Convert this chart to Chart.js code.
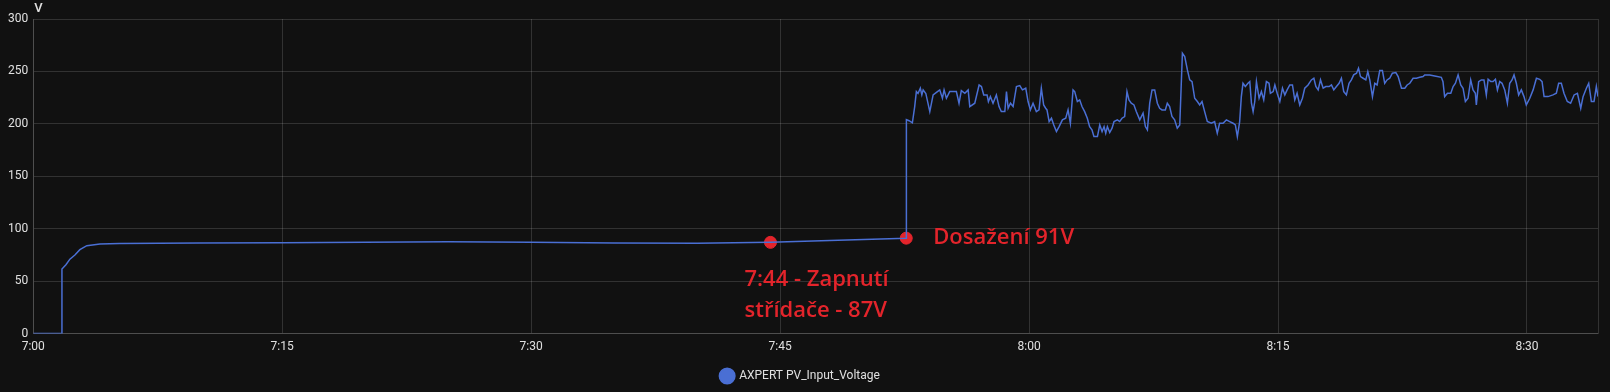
<!DOCTYPE html>
<html>
<head>
<meta charset="utf-8">
<script src="https://cdn.jsdelivr.net/npm/chart.js@4"></script>
<style>
    html, body { margin: 0; padding: 0; background: #111111; }
    #wrap { width: 1610px; height: 392px; }
</style>
</head>
<body>
<div id="wrap"><canvas id="chartCanvas"></canvas></div>
<script>
// data (minuty od 7:00, napětí ve V)
const minutes = [
    0, 1.72, 1.73, 1.97, 2.21, 2.51, 2.81, 3.23, 4.02, 5.2, 10, 15, 20, 25, 30, 35, 40, 44.42, 48, 52.6,
    52.61, 52.77, 52.97, 53.11, 53.21, 53.31, 53.45, 53.54, 53.62, 53.78, 54.02, 54.22, 54.42, 54.62, 54.78,
    54.88, 55.02, 55.22, 55.62, 55.78, 55.92, 56.13, 56.33, 56.43, 56.73, 56.99, 57.13, 57.27, 57.47, 57.55,
    57.67, 57.83, 58.03, 58.19, 58.33, 58.54, 58.64, 58.74, 58.88, 59.04, 59.24, 59.44, 59.60, 59.80, 59.94,
    60.08, 60.24, 60.44, 60.60, 60.74, 60.88, 61.00, 61.08, 61.21, 61.35, 61.49, 61.65, 61.81, 62.01, 62.21,
    62.35, 62.49, 62.65,
    62.75, 62.91, 63.05, 63.19, 63.35, 63.51, 63.65, 63.79, 63.91, 64.12, 64.26, 64.40, 64.52, 64.62, 64.72,
    64.86, 65.00, 65.12, 65.32, 65.46, 65.60, 65.76, 65.90, 66.02, 66.16, 66.32, 66.46, 66.67, 66.87, 67.01,
    67.13, 67.27, 67.41, 67.57, 67.73, 67.87, 68.01, 68.21, 68.33, 68.47, 68.61, 68.77, 68.93, 69.08, 69.24,
    69.38, 69.54, 69.68, 69.82, 69.98, 70.14, 70.28, 70.42, 70.58, 70.74, 70.98, 71.18, 71.34, 71.48, 71.69,
    71.89, 72.09, 72.29, 72.43, 72.55, 72.69, 72.79, 72.89, 73.03, 73.19,
    73.30, 73.40, 73.50, 73.60, 73.70, 73.86, 74.00, 74.14, 74.30, 74.46, 74.54, 74.71, 74.81, 74.95, 75.11,
    75.27, 75.41, 75.55, 75.71, 75.87, 76.01, 76.15, 76.31, 76.47, 76.61, 76.81, 77.01, 77.16, 77.28, 77.42,
    77.56, 77.72, 77.88, 78.08, 78.22, 78.36, 78.52, 78.68, 78.82, 78.96, 79.12, 79.28, 79.42, 79.56, 79.73,
    79.85, 79.97, 80.13, 80.29, 80.41, 80.53, 80.69, 80.83, 80.97, 81.13, 81.29, 81.43, 81.57, 81.73, 81.89,
    82.10, 82.24, 82.44, 82.64, 82.78, 82.94, 83.14, 83.34, 83.54, 83.74,
    83.84, 84.14, 84.44, 84.84, 84.94, 85.04, 85.21, 85.41, 85.55, 85.69, 85.85, 86.01, 86.15, 86.29, 86.45,
    86.61, 86.75, 86.89, 86.95, 87.09, 87.25, 87.41, 87.55, 87.66, 87.82, 87.96, 88.10, 88.22, 88.36, 88.50,
    88.66, 88.82, 88.96, 89.10, 89.22, 89.36, 89.50, 89.66, 89.82, 89.96, 90.17, 90.37, 90.57, 90.77, 90.91,
    91.03, 91.27, 91.57, 91.77, 91.91, 92.07, 92.23, 92.43, 92.63, 92.84, 93.04, 93.24, 93.38, 93.58, 93.72,
    93.88, 94.04, 94.18, 94.28
];
const voltage = [
    0, 0, 61.6, 65.7, 71, 75, 80, 83.8, 85.4, 86, 86.4, 86.7, 87.2, 87.6, 87.2, 86.5, 86.2, 87, 88.8, 91,
    204, 203, 201, 216.5, 230.8, 229, 234, 227.6, 232.4, 229, 211.7, 227.6, 230, 232.4, 224.4,
    232.4, 224.4, 230.8, 230.8, 219.7, 231.7, 229.2, 232.4, 216.5, 219.7, 237.1, 235.6, 227.6, 227.6, 221.3,
    226, 219.7, 227.6, 216.5, 211.7, 211.7, 230.8, 214.9, 219.7, 216.5, 235.6, 236.5, 232.4, 234, 221.3,
    213.3, 219.7, 211.7, 213.3, 234, 218, 214.9, 213.3, 202.2, 205.4, 199, 192.7, 197.4, 203.8, 205.4,
    213.3, 200.6, 232.4,
    230.8, 221.3, 222.9, 216.5, 211.7, 205.4, 197.4, 194.3, 187.9, 187.9, 199, 192.7, 197.4, 191.1, 197.4,
    191.7, 195.9, 202.2, 203.8, 202.2, 205.4, 207, 230.8, 222.9, 219.7, 218.1, 211.7, 203.8, 210.2, 197.4,
    194.3, 219.7, 232.4, 232.4, 219.7, 214.9, 213.3, 213.3, 219.7, 216.5, 207, 203.8, 195.9, 199, 267.3,
    264.1, 251.4, 241.9, 240.3, 224.4, 221.3, 218.1, 221.3, 211.7, 202.2, 200.6, 202.2, 191.1, 200.6, 200.6,
    203.8, 202.2, 200.6, 199, 187.9, 202.2, 226, 238.7, 235.6, 238.7,
    240.3, 219.7, 211.7, 221.3, 240.3, 224.4, 230.8, 222.9, 240.3, 238.7, 229.2, 230.8, 237.1, 229.2, 221.3,
    234, 227.6, 232.4, 237.1, 237.1, 222.9, 229.2, 218.1, 224.4, 234, 237.1, 241.9, 243.5, 235.6, 232.4,
    241.9, 234, 235.6, 235.6, 237.1, 232.4, 235.6, 238.7, 243.5, 230.8, 227.6, 238.7, 241.9, 246.7, 248.3,
    253, 245.1, 243.5, 241.9, 249.8, 241.9, 226, 238.7, 237.1, 250.8, 250.8, 238.7, 241.9, 243.5, 248.3,
    248.9, 245.1, 234, 234, 237.1, 238.7, 243.5, 243.5, 244.4, 245.1,
    246.7, 246.7, 245.7, 244.4, 240.3, 226, 229.2, 229.2, 235.6, 238.7, 246.7, 237.1, 234, 221.3, 224.4,
    241.9, 232.4, 229.2, 218.1, 240.3, 241.9, 241.9, 227.6, 242.5, 240.3, 240.3, 242.5, 232.4, 240.3, 238.7,
    232.4, 219.7, 238.7, 241.9, 246.7, 238.7, 227.6, 232.4, 226, 218.1, 224.4, 232.4, 243.5, 242.5, 240.3,
    226, 226, 227.6, 229.2, 238.7, 238.7, 229.2, 221.3, 219.7, 227.6, 229.2, 214.9, 226, 234, 238.7,
    221.3, 221.3, 235.6, 226
];

// vyznačené body a popisky
const markMinutes = [44.42, 52.6];
const markVolts = [87, 91];
const markTexts = [['7:44 - Zapnutí', 'střídače - 87V'], ['Dosažení 91V']];

// popisky os
const tickLabels = ['7:00', '7:15', '7:30', '7:45', '8:00', '8:15', '8:30'];
const yTicks = [0, 50, 100, 150, 200, 250, 300];
const seriesName = 'AXPERT PV_Input_Voltage';
const unitLabel = 'V';

const lineColor = '#4a6fd4';
const markColor = '#e3242b';
const textColor = '#e0e0e0';
const gridColor = 'rgba(255, 255, 255, 0.14)';

let chart;

// popisky jednotky a anotace
const overlayPlugin = {
    id: 'overlay',
    afterDraw(c) {
        const ctx = c.ctx;
        const area = c.chartArea;
        const xs = c.scales.x;
        const ys = c.scales.y;
        ctx.save();
        ctx.fillStyle = textColor;
        ctx.font = '500 13px Roboto';
        ctx.textBaseline = 'bottom';
        ctx.textAlign = 'left';
        ctx.fillText(unitLabel, area.left + 1, area.top - 4);

        ctx.fillStyle = markColor;
        ctx.font = '600 22px "Open Sans"';
        ctx.textBaseline = 'alphabetic';
        // první bod - text pod bodem
        let px = xs.getPixelForValue(markMinutes[0]);
        let py = ys.getPixelForValue(markVolts[0]);
        ctx.fillText(markTexts[0][0], px - 26, py + 44);
        ctx.fillText(markTexts[0][1], px - 26, py + 75);
        // druhý bod - text vpravo
        px = xs.getPixelForValue(markMinutes[1]);
        py = ys.getPixelForValue(markVolts[1]);
        ctx.fillText(markTexts[1][0], px + 27, py + 6);
        ctx.restore();
    }
};

function initChart() {
    const canvas = document.getElementById('chartCanvas');
    const points = minutes.map((m, i) => ({ x: m, y: voltage[i] }));
    const marks = markMinutes.map((m, i) => ({ x: m, y: markVolts[i] }));

    chart = new Chart(canvas, {
        type: 'line',
        data: {
            datasets: [{
                label: seriesName,
                data: points,
                borderColor: lineColor,
                backgroundColor: lineColor,
                borderWidth: 1.5,
                pointRadius: 0,
                tension: 0
            }, {
                label: 'marks',
                data: marks,
                showLine: false,
                pointRadius: 6,
                pointBackgroundColor: markColor,
                pointBorderColor: markColor,
                borderColor: markColor,
                backgroundColor: markColor
            }]
        },
        options: {
            responsive: true,
            maintainAspectRatio: false,
            animation: false,
            layout: { padding: { top: 19, left: 3, right: 12, bottom: 0 } },
            plugins: {
                legend: {
                    position: 'bottom',
                    labels: {
                        color: textColor,
                        font: { family: 'Roboto', size: 12 },
                        usePointStyle: true,
                        pointStyle: 'circle',
                        boxHeight: 11,
                        filter: (item) => item.datasetIndex === 0
                    }
                },
                tooltip: { enabled: false }
            },
            scales: {
                x: {
                    type: 'linear',
                    min: 0,
                    max: 94.28,
                    grid: { color: gridColor, drawTicks: false },
                    border: { color: gridColor },
                    ticks: {
                        stepSize: 15,
                        color: textColor,
                        font: { family: 'Roboto', size: 12 },
                        padding: 6,
                        maxRotation: 0,
                        callback: (v) => (v % 15 === 0 ? tickLabels[v / 15] : '')
                    }
                },
                y: {
                    min: yTicks[0],
                    max: yTicks[yTicks.length - 1],
                    grid: { color: gridColor, drawTicks: false },
                    border: { color: gridColor },
                    ticks: {
                        stepSize: 50,
                        color: textColor,
                        font: { family: 'Roboto', size: 12 },
                        padding: 5
                    }
                }
            }
        },
        plugins: [overlayPlugin]
    });
}

document.addEventListener('DOMContentLoaded', initChart);
</script>
</body>
</html>
